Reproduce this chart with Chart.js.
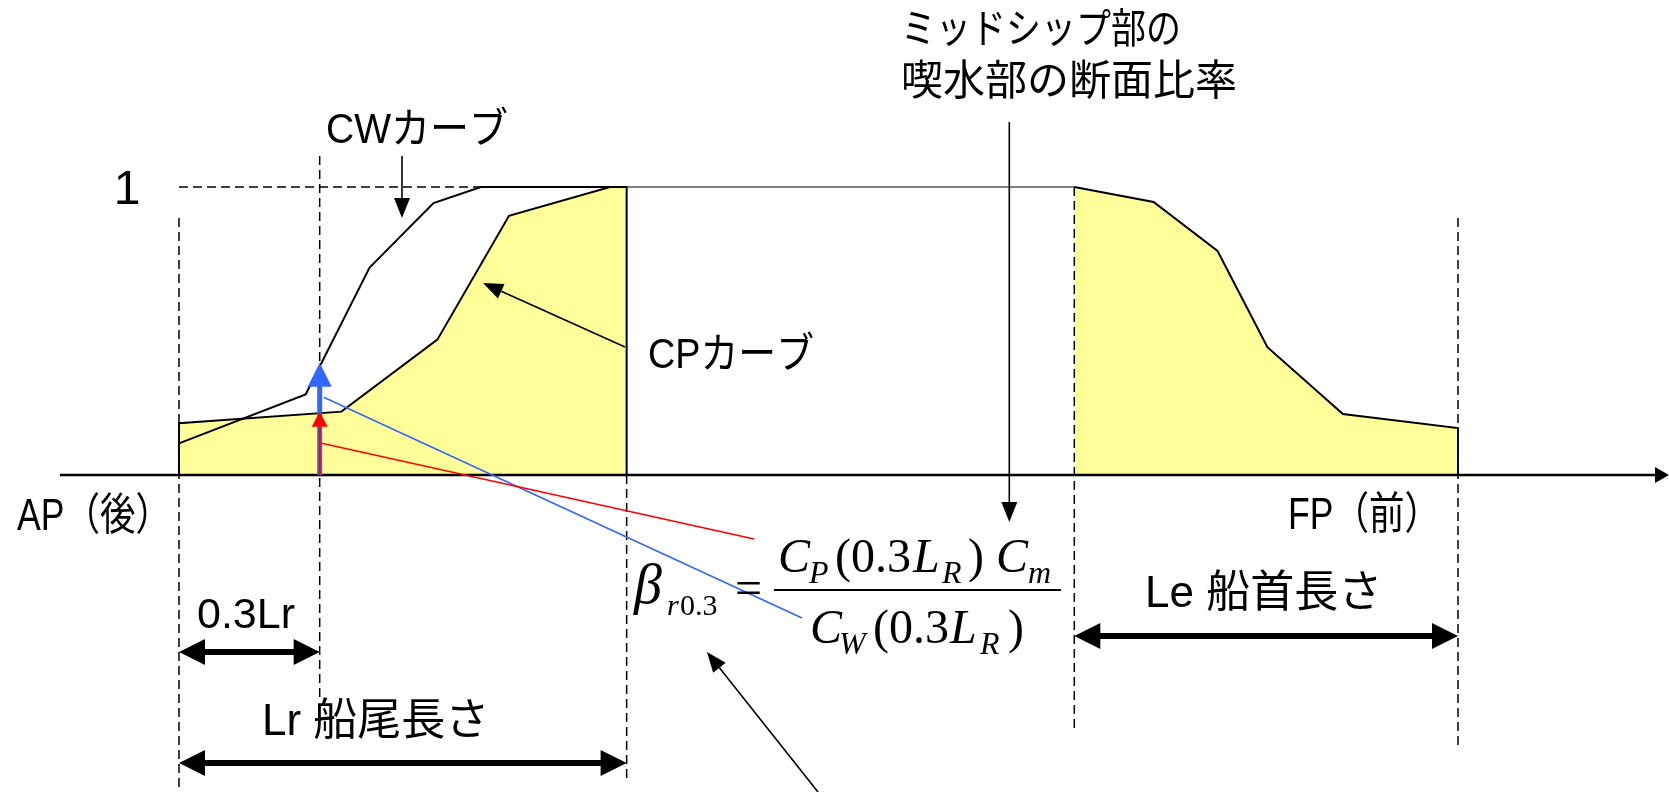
<!DOCTYPE html>
<html>
<head>
<meta charset="utf-8">
<script src="https://cdn.jsdelivr.net/npm/chart.js@4.4.1/dist/chart.umd.min.js"></script>
<style>
  html, body { margin: 0; padding: 0; background: #fff; }
  #wrap { width: 1669px; height: 792px; }
</style>
</head>
<body>
<div id="wrap"><canvas id="chart"></canvas></div>
<script>
// stations along the hull, as fraction of length (AP = 0, FP = 1)
const xAP = 0;
const x03Lr = 0.11;
const xLr = 0.35;
const xLe = 0.70;
const xFP = 1;

// CP curve, aft part
const cpAftX = [0, 0, 0.127, 0.202, 0.258, 0.337, 0.35, 0.35];
const cpAftY = [0, 0.18, 0.22, 0.47, 0.90, 1, 1, 0];

// CW curve, aft part
const cwAftX = [0, 0.099, 0.149, 0.199, 0.236, 0.35];
const cwAftY = [0.11, 0.28, 0.72, 0.944, 1, 1];

// CP curve, fore part
const cpForeX = [0.70, 0.762, 0.812, 0.851, 0.910, 1, 1];
const cpForeY = [1, 0.948, 0.778, 0.444, 0.212, 0.163, 0];

// parallel midship part
const midX = [0.35, 0.70];
const midY = [1, 1];

// values read at 0.3Lr
const cwAt03 = 0.39;
const cpAt03 = 0.22;

const SANS = '"Liberation Sans", "Noto Sans CJK JP", sans-serif';
const SERIF = '"Liberation Serif", serif';
const YELLOW = "#FFFF99";
const BLUE = "#3366FF";
const RED = "#FF0000";

function pts(xs, ys) {
  return xs.map((x, i) => ({ x, y: ys[i] }));
}

function arrow(ctx, x1, y1, x2, y2, len, half, width, color) {
  const a = Math.atan2(y2 - y1, x2 - x1);
  const bx = x2 - Math.cos(a) * len;
  const by = y2 - Math.sin(a) * len;
  ctx.save();
  ctx.strokeStyle = color;
  ctx.fillStyle = color;
  ctx.lineWidth = width;
  ctx.setLineDash([]);
  ctx.beginPath();
  ctx.moveTo(x1, y1);
  ctx.lineTo(bx, by);
  ctx.stroke();
  ctx.beginPath();
  ctx.moveTo(x2, y2);
  ctx.lineTo(bx + Math.sin(a) * half, by - Math.cos(a) * half);
  ctx.lineTo(bx - Math.sin(a) * half, by + Math.cos(a) * half);
  ctx.closePath();
  ctx.fill();
  ctx.restore();
}

function doubleArrow(ctx, x1, x2, y) {
  const len = 26, half = 13;
  ctx.save();
  ctx.lineWidth = 6;
  ctx.strokeStyle = "#000";
  ctx.fillStyle = "#000";
  ctx.beginPath();
  ctx.moveTo(x1 + len - 2, y);
  ctx.lineTo(x2 - len + 2, y);
  ctx.stroke();
  ctx.beginPath();
  ctx.moveTo(x1, y);
  ctx.lineTo(x1 + len, y - half);
  ctx.lineTo(x1 + len, y + half);
  ctx.closePath();
  ctx.fill();
  ctx.beginPath();
  ctx.moveTo(x2, y);
  ctx.lineTo(x2 - len, y - half);
  ctx.lineTo(x2 - len, y + half);
  ctx.closePath();
  ctx.fill();
  ctx.restore();
}

function dashed(ctx, x1, y1, x2, y2) {
  ctx.save();
  ctx.strokeStyle = "#000";
  ctx.lineWidth = 1.5;
  ctx.setLineDash([9, 5]);
  ctx.beginPath();
  ctx.moveTo(x1, y1);
  ctx.lineTo(x2, y2);
  ctx.stroke();
  ctx.restore();
}

function text(ctx, str, x, y, font, maxW, base) {
  ctx.font = font;
  ctx.textBaseline = base || "alphabetic";
  ctx.textAlign = "left";
  ctx.fillStyle = "#000";
  if (maxW) ctx.fillText(str, x, y, maxW);
  else ctx.fillText(str, x, y);
}

const sketch = {
  id: "sketch",
  beforeDatasetsDraw(chart) {
    const ctx = chart.ctx;
    const sx = chart.scales.x, sy = chart.scales.y;
    const y1 = sy.getPixelForValue(1);
    dashed(ctx, sx.getPixelForValue(xAP), y1, sx.getPixelForValue(xLr), y1);
  },
  afterDatasetsDraw(chart) {
    const ctx = chart.ctx;
    const sx = chart.scales.x, sy = chart.scales.y;
    const px = (v) => sx.getPixelForValue(v);
    const y0 = sy.getPixelForValue(0);

    // base line with arrow
    ctx.save();
    ctx.strokeStyle = "#000";
    ctx.lineWidth = 2.5;
    ctx.beginPath();
    ctx.moveTo(60, y0);
    ctx.lineTo(1656, y0);
    ctx.stroke();
    ctx.restore();
    arrow(ctx, 1650, y0, 1669, y0, 14, 8, 2, "#000");

    // station guides
    dashed(ctx, px(xAP), 218, px(xAP), 792);
    dashed(ctx, px(x03Lr), 156, px(x03Lr), 698);
    dashed(ctx, px(xLr), y0, px(xLr), 782);
    dashed(ctx, px(xLe), sy.getPixelForValue(1), px(xLe), 730);
    dashed(ctx, px(xFP), 218, px(xFP), 746);
  },
  afterDraw(chart) {
    const ctx = chart.ctx;
    const sx = chart.scales.x, sy = chart.scales.y;
    const px = (v) => sx.getPixelForValue(v);
    const py = (v) => sy.getPixelForValue(v);
    const y0 = py(0);
    const xa = px(x03Lr);

    // leaders to the formula
    ctx.save();
    ctx.lineWidth = 1.6;
    ctx.strokeStyle = BLUE;
    ctx.beginPath();
    ctx.moveTo(xa + 4, py(0.27));
    ctx.lineTo(802, 618);
    ctx.stroke();
    ctx.strokeStyle = RED;
    ctx.beginPath();
    ctx.moveTo(xa + 2, py(0.11));
    ctx.lineTo(754, 539);
    ctx.stroke();
    ctx.restore();

    // CW and CP values at 0.3Lr
    arrow(ctx, xa, y0, xa, py(cwAt03), 24, 12, 5, BLUE);
    arrow(ctx, xa, y0, xa, py(cpAt03), 15, 8, 2, RED);

    // callout arrows
    arrow(ctx, 402, 156, 402, 218, 20, 8, 1.6, "#000");
    arrow(ctx, 625, 347, 483, 283, 20, 8, 1.6, "#000");
    arrow(ctx, px(xLe) - 65, 122, px(xLe) - 65, 522, 20, 8, 1.6, "#000");
    arrow(ctx, 818, 792, 707, 652, 20, 8, 1.6, "#000");

    // length dimensions
    doubleArrow(ctx, px(xAP), px(x03Lr), 652);
    doubleArrow(ctx, px(xAP), px(xLr), 763);
    doubleArrow(ctx, px(xLe), px(xFP), 636);

    // labels
    const f42 = "42px " + SANS;
    const f44 = "44px " + SANS;
    ctx.textAlign = "center";
    ctx.font = "48px " + SANS;
    ctx.textBaseline = "alphabetic";
    ctx.fillText("1", 127, 204);
    text(ctx, "CWカーブ", 326, 143, f42, 182);
    text(ctx, "CPカーブ", 648, 368, f42, 166);
    text(ctx, "ミッドシップ部の", 901, 32, "41px " + SANS, 280, "middle");
    text(ctx, "喫水部の断面比率", 901, 83, "42px " + SANS, 340, "middle");
    text(ctx, "AP（後）", 17, 518, f44, 154, "middle");
    text(ctx, "FP（前）", 1288, 517, f44, 152, "middle");
    text(ctx, "0.3Lr", 197, 628, "43px " + SANS, 112);
    text(ctx, "Lr 船尾長さ", 262, 723, f44, 238, "middle");
    text(ctx, "Le 船首長さ", 1145, 595, f44, 244, "middle");

    // formula
    const it = "italic 48px " + SERIF;
    const up = "48px " + SERIF;
    const sub = "italic 32px " + SERIF;
    text(ctx, "β", 634, 603, "italic 56px " + SERIF);
    text(ctx, "r", 667, 615, "italic 30px " + SERIF);
    text(ctx, "0.3", 680, 615, "30px " + SERIF);
    text(ctx, "=", 735, 604, up);

    text(ctx, "C", 778, 572, it);
    text(ctx, "P", 809, 583, sub);
    text(ctx, "(0.3", 835, 572, up);
    text(ctx, "L", 913, 572, it);
    text(ctx, "R", 942, 583, sub);
    text(ctx, ")", 968, 572, up);
    text(ctx, "C", 996, 572, it);
    text(ctx, "m", 1028, 583, sub);

    ctx.save();
    ctx.strokeStyle = "#000";
    ctx.lineWidth = 2;
    ctx.beginPath();
    ctx.moveTo(774, 590);
    ctx.lineTo(1061, 590);
    ctx.stroke();
    ctx.restore();

    text(ctx, "C", 810, 643, it);
    text(ctx, "W", 839, 654, sub);
    text(ctx, "(0.3", 873, 643, up);
    text(ctx, "L", 950, 643, it);
    text(ctx, "R", 980, 654, sub);
    text(ctx, ")", 1008, 643, up);
  }
};

new Chart(document.getElementById("chart"), {
  type: "line",
  data: {
    datasets: [
      {
        label: "CWカーブ",
        data: pts(cwAftX, cwAftY),
        borderColor: "#000",
        borderWidth: 2,
        fill: false,
        order: 1,
      },
      {
        label: "midship",
        data: pts(midX, midY),
        borderColor: "#000",
        borderWidth: 1.2,
        fill: false,
        order: 2,
      },
      {
        label: "CPカーブ (後)",
        data: pts(cpAftX, cpAftY),
        borderColor: "#000",
        borderWidth: 2,
        backgroundColor: YELLOW,
        fill: "origin",
        order: 3,
      },
      {
        label: "CPカーブ (前)",
        data: pts(cpForeX, cpForeY),
        borderColor: "#000",
        borderWidth: 2,
        backgroundColor: YELLOW,
        fill: "origin",
        order: 4,
      },
    ],
  },
  options: {
    responsive: true,
    maintainAspectRatio: false,
    animation: false,
    layout: { padding: 0 },
    elements: { point: { radius: 0 }, line: { tension: 0 } },
    plugins: { legend: { display: false }, tooltip: { enabled: false } },
    scales: {
      x: { type: "linear", min: -179 / 1279, max: 1490 / 1279, display: false },
      y: { type: "linear", min: -317 / 288, max: 475 / 288, display: false },
    },
  },
  plugins: [sketch],
});
</script>
</body>
</html>
